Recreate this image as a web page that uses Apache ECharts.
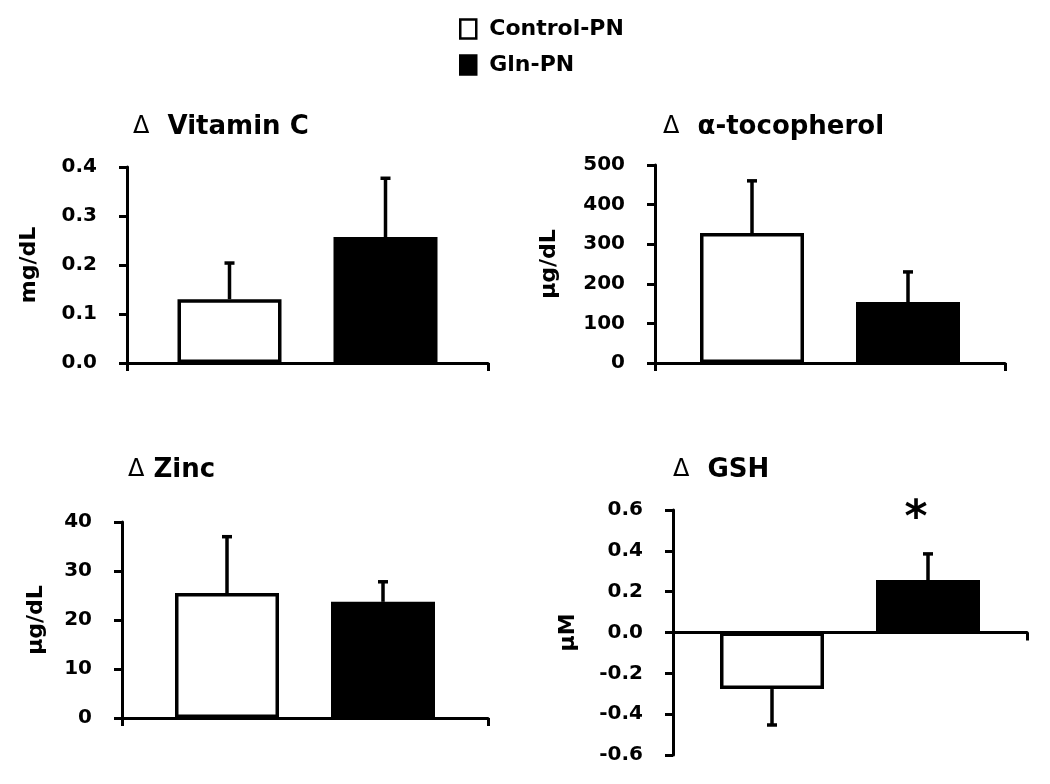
<!DOCTYPE html>
<html>
<head>
<meta charset="utf-8">
<script src="https://cdn.jsdelivr.net/npm/echarts@6/dist/echarts.min.js"></script>
<style>
  html, body { margin: 0; padding: 0; background: #fff; }
  #main { width: 1050px; height: 784px; }
</style>
</head>
<body>
<div id="main"></div>
<script>
// data
var groups = ['Control-PN', 'Gln-PN'];
var vitCMean = [0.13, 0.257];
var vitCErr = [0.074, 0.12];
var tocoMean = [328, 154];
var tocoErr = [132, 76];
var zincMean = [25.5, 23.7];
var zincErr = [11.5, 4.1];
var gshMean = [-0.277, 0.257];
var gshErr = [0.176, 0.128];
var gshSig = ['', '*'];

var FONT = 'DejaVu Sans';
var BAR_W = 104;
var BAR_GAP = 52;
var OFFSET = (BAR_W + BAR_GAP) / 2;

var chart = echarts.init(document.getElementById('main'));

// panels: grid box, axis setup, titles
var panels = [
  { title: 'Vitamin C', tx: 128, ty: 109, left: 127, top: 167, width: 361, height: 196,
    min: 0, max: 0.4, interval: 0.1, dec: 1, name: 'mg/dL', gap: 87, mean: vitCMean, err: vitCErr, sig: null },
  { title: 'α-tocopherol', tx: 658, ty: 109, left: 655, top: 165, width: 350, height: 198,
    min: 0, max: 500, interval: 100, dec: 0, name: 'μg/dL', gap: 95, mean: tocoMean, err: tocoErr, sig: null },
  { title: 'Zinc', tx: 123, ty: 452, left: 122, top: 522, width: 366, height: 196,
    min: 0, max: 40, interval: 10, dec: 0, name: 'μg/dL', gap: 75, mean: zincMean, err: zincErr, sig: null, oneSpace: true },
  { title: 'GSH', tx: 668, ty: 452, left: 673, top: 510, width: 354, height: 245,
    min: -0.6, max: 0.6, interval: 0.2, dec: 1, name: 'μM', gap: 94, mean: gshMean, err: gshErr, sig: gshSig }
];

function errRenderer(sig) {
  return function (params, api) {
    var g = api.value(3);
    var v = api.value(1);
    var e = api.value(2);
    var end = v < 0 ? v - e : v + e;
    var p0 = api.coord([0, v]);
    var p1 = api.coord([0, end]);
    var x = p0[0] + (g === 0 ? -OFFSET : OFFSET);
    var st = { stroke: '#000', lineWidth: 3.5 };
    var kids = [
      { type: 'line', shape: { x1: x, y1: p0[1], x2: x, y2: p1[1] }, style: st },
      { type: 'line', shape: { x1: x - 5, y1: p1[1], x2: x + 5, y2: p1[1] }, style: st }
    ];
    if (sig && sig[params.dataIndex]) {
      kids.push({
        type: 'text',
        style: { x: x - 12, y: p1[1] - 34, text: sig[params.dataIndex], fill: '#000',
          font: 'bold 44px ' + FONT, align: 'center', verticalAlign: 'middle' }
      });
    }
    return { type: 'group', children: kids };
  };
}

var titles = [], grids = [], xAxes = [], yAxes = [], series = [];
panels.forEach(function (p, i) {
  titles.push({
    text: '{d|Δ}' + (p.oneSpace ? ' ' : '  ') + p.title,
    left: p.tx, top: p.ty,
    textStyle: {
      fontFamily: FONT, fontWeight: 'bold', fontSize: 26, color: '#000',
      rich: { d: { fontFamily: FONT, fontWeight: 'normal', fontSize: 24, color: '#000' } }
    }
  });
  grids.push({ left: p.left, top: p.top, width: p.width, height: p.height });
  xAxes.push({
    type: 'category', gridIndex: i, data: ['x'],
    axisLine: { lineStyle: { color: '#000', width: 3 } },
    axisTick: { show: true, interval: 0, length: 8, lineStyle: { color: '#000', width: 3 } },
    axisLabel: { show: false }
  });
  yAxes.push({
    type: 'value', gridIndex: i, min: p.min, max: p.max, interval: p.interval,
    name: p.name, nameLocation: 'middle', nameGap: p.gap,
    nameTextStyle: { fontFamily: FONT, fontWeight: 'bold', fontSize: 22, color: '#000' },
    splitLine: { show: false },
    axisLine: { show: true, lineStyle: { color: '#000', width: 3 } },
    axisTick: { show: true, length: 8, lineStyle: { color: '#000', width: 3 } },
    axisLabel: {
      margin: 30, fontFamily: FONT, fontWeight: 'bold', fontSize: 20, color: '#000',
      formatter: (function (dec) { return function (v) { return v.toFixed(dec); }; })(p.dec)
    }
  });
  series.push({
    name: groups[0], type: 'bar', xAxisIndex: i, yAxisIndex: i,
    barWidth: BAR_W, barGap: (BAR_GAP / BAR_W * 100) + '%',
    itemStyle: { color: '#fff', borderColor: '#000', borderWidth: 3.5 },
    data: [p.mean[0]]
  });
  series.push({
    name: groups[1], type: 'bar', xAxisIndex: i, yAxisIndex: i,
    barWidth: BAR_W,
    itemStyle: { color: '#000', borderColor: '#000', borderWidth: 3.5 },
    data: [p.mean[1]]
  });
  series.push({
    name: 'err' + i, type: 'custom', xAxisIndex: i, yAxisIndex: i, z: 1,
    renderItem: errRenderer(p.sig),
    data: [[0, p.mean[0], p.err[0], 0], [0, p.mean[1], p.err[1], 1]]
  });
});

var option = {
  backgroundColor: '#fff',
  animation: false,
  title: titles,
  legend: {
    data: groups, orient: 'vertical', left: 454, top: 13,
    icon: 'rect', itemWidth: 16, itemHeight: 19, itemGap: 14,
    itemStyle: { borderColor: '#000', borderWidth: 2.5 },
    textStyle: { fontFamily: FONT, fontWeight: 'bold', fontSize: 22, color: '#000', padding: [0, 0, 0, 8] }
  },
  grid: grids,
  xAxis: xAxes,
  yAxis: yAxes,
  series: series
};
chart.setOption(option);
</script>
</body>
</html>
